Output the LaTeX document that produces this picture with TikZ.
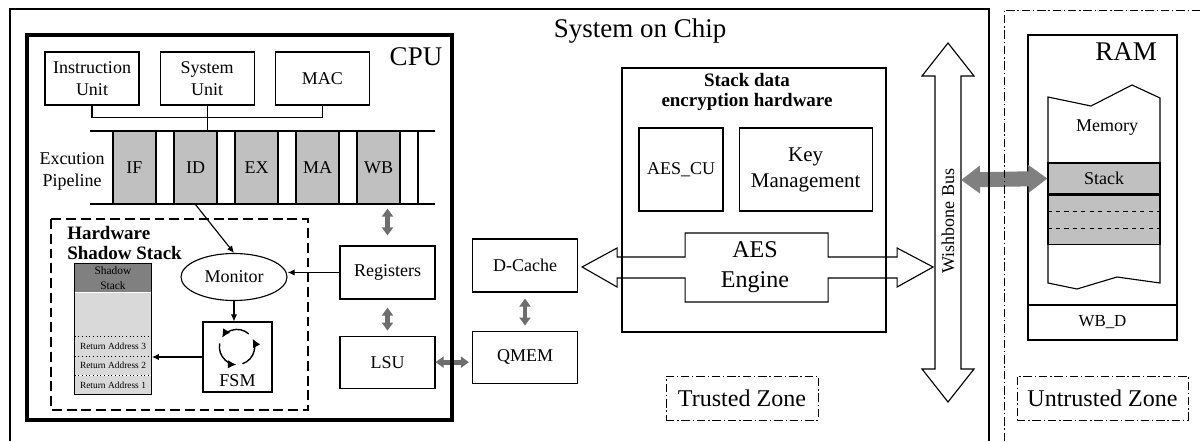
\documentclass[tikz,border=0pt]{standalone}
\usepackage{fontspec}
\setmainfont{Liberation Serif}
\usepackage{tikz}
\usetikzlibrary{shapes,arrows.meta,positioning,calc,fit}
\usepackage{xcolor}

\definecolor{stagegray}{HTML}{C0C0C0}
\definecolor{headgray}{HTML}{808080}
\definecolor{slotgray}{HTML}{D9D9D9}
\definecolor{linkgray}{HTML}{6E6E6E}
\definecolor{busgray}{HTML}{808080}

\begin{document}
\begin{tikzpicture}[
    x=0.025cm, y=-0.025cm,
    block/.style={rectangle, draw, line width=0.8pt, align=center, inner sep=1pt, font=\fontsize{12.8}{15.6}\selectfont},
    stage/.style={block, fill=stagegray, minimum width=1.075cm, minimum height=1.825cm},
    slot/.style={fill=slotgray, minimum width=1.9cm, inner sep=0pt, font=\fontsize{6.7}{8}\selectfont},
    zone/.style={rectangle, draw, line width=0.6pt, dash pattern=on 6pt off 2pt on 1pt off 2pt, minimum height=1.1cm, font=\fontsize{17.1}{20}\selectfont},
    title/.style={font=\fontsize{19.2}{22}\selectfont},
    heading/.style={font=\bfseries\fontsize{13.5}{14.2}\selectfont},
    arrow/.style={-{Latex[length=5pt,width=4.5pt]}, line width=0.8pt},
    link/.style={{Triangle[length=5.7pt,width=7.8pt]}-{Triangle[length=5.7pt,width=7.8pt]}, line width=3.5pt, linkgray},
    buslink/.style={{Triangle[length=13.5pt,width=19pt]}-{Triangle[length=13.5pt,width=19pt]}, line width=10.7pt, busgray},
    node distance=0pt
]
    \useasboundingbox (0,0) rectangle (1201,441);

    \node[title] (soc) at (640,31) {System on Chip};

    % CPU units
    \node[block, minimum width=2.35cm, minimum height=1.325cm] (iunit) at (92,78.5) {Instruction\\Unit};
    \node[block, minimum width=2.35cm, minimum height=1.325cm, right=0.5cm of iunit] (sunit) {System\\Unit};
    \node[block, minimum width=2.35cm, minimum height=1.325cm, right=0.5cm of sunit] (mac) {MAC};
    \node[title] (cpu) at (416,57) {CPU};

    % Pipeline stages
    \coordinate (pipetop) at (90,131);
    \draw[line width=0.8pt] (90,131) -- (435,131) (90,204) -- (435,204);
    \foreach \s [count=\i] in {IF,ID,EX,MA,WB}
        \node[stage] (\s) at (73.5+61*\i,167.5) {\s};
    \draw[line width=0.8pt] (418,131) -- (418,204);
    \node[block, draw=none] (pipelabel) at (72,171) {Excution\\Pipeline};

    \draw[line width=0.8pt] (iunit.south) -- ++(0,12) -| (mac.south);
    \draw[line width=0.8pt] (sunit.south) -- (sunit.south |- pipetop);

    % Hardware shadow stack
    \draw[line width=0.9pt, dash pattern=on 7pt off 3.5pt] (51,219) rectangle (308,410);
    \node[heading, align=left, anchor=west, inner sep=0pt] (hsslabel) at (67,243) {Hardware\\Shadow Stack};

    \node[slot, fill=headgray, minimum height=0.7cm, align=center, font=\fontsize{8.1}{10.7}\selectfont] (sshead) at (113,278) {Shadow\\Stack};
    \node[slot, minimum height=1.1cm, below=of sshead] (ssfree) {};
    \node[slot, minimum height=0.4675cm, below=of ssfree] (ra3) {Return Address 3};
    \node[slot, minimum height=0.4675cm, below=of ra3] (ra2) {Return Address 2};
    \node[slot, minimum height=0.4675cm, below=of ra2] (ra1) {Return Address 1};
    \node[draw, line width=0.8pt, inner sep=0pt, fit=(sshead)(ra1)] (shadow) {};
    \foreach \r in {ra3,ra2,ra1}
        \draw[dotted, line width=0.6pt] (\r.north west) -- (\r.north east);

    \node[ellipse, draw, line width=0.8pt, minimum width=2.65cm, minimum height=1.175cm, font=\fontsize{12.8}{15}\selectfont] (monitor) at (234,277) {Monitor};
    \node[block, minimum width=1.725cm, minimum height=1.75cm,
        label={[inner sep=4pt, anchor=south, font=\fontsize{12.8}{15}\selectfont]south:FSM}] (fsm) at (237.5,357) {};
    \foreach \a in {48,168,288}
        \draw[line width=1pt, -{Latex[length=6pt,width=6pt]}] ($(fsm.center)+(-0.5,-10)$) ++(\a:0.44cm)
            arc[start angle=\a, end angle=\a+100, radius=0.44cm];

    % Registers and load/store
    \node[block, minimum width=2.375cm, minimum height=1.325cm] (reg) at (387.5,272.5) {Registers};
    \node[block, minimum width=2.375cm, minimum height=1.3cm, below=0.9cm of reg] (lsu) {LSU};

    \draw[arrow] (ID.south) -- (monitor.north);
    \draw[arrow] (reg.west) -- (reg.west -| monitor.east);
    \draw[arrow] (monitor.south) -- (monitor.south |- fsm.north);
    \draw[arrow] (fsm.west) -- (fsm.west -| shadow.east);

    % Cache and memory
    \node[block, minimum width=2.625cm, minimum height=1.325cm] (dcache) at (525,265.5) {D-Cache};
    \node[block, minimum width=2.625cm, minimum height=1.3cm, below=0.95cm of dcache] (qmem) {QMEM};

    \draw[link, shorten <=0.1cm, shorten >=0.25cm] (reg.north |- WB.south) -- (reg.north);
    \draw[link, shorten <=0.2cm, shorten >=0.125cm] (reg.south) -- (lsu.north);
    \draw[link, shorten >=0.075cm] (lsu.east) -- (lsu.east -| qmem.west);
    \draw[link, shorten <=0.15cm, shorten >=0.125cm] (dcache.south) -- (qmem.north);

    % Stack data encryption hardware
    \node[draw, line width=0.8pt, minimum width=6.6cm, minimum height=6.6cm] (sdeh) at (754,200) {};
    \node[heading, align=center] (sdehlabel) at (747,92) {Stack data\\encryption hardware};
    \node[block, minimum width=2.1cm, minimum height=2.075cm] (aescu) at (681,169.5) {AES\_CU};
    \node[block, minimum width=3.325cm, minimum height=2.075cm, font=\fontsize{14.9}{18.5}\selectfont, right=0.375cm of aescu] (keymgmt) {Key\\Management};

    \node[align=center, font=\fontsize{17.1}{21.3}\selectfont] (engine) at (755,267) {AES\\Engine};
    \draw[line width=0.8pt] ($(dcache.east)+(4,1.5)$) -- ++(35,-19) -- ++(0,9) -- ++(68,0) -- ++(0,-24)
        -- ++(143,0) -- ++(0,24) -- ++(69,0) -- ++(0,-9) -- ++(36,19) -- ++(-36,20) -- ++(0,-9)
        -- ++(-69,0) -- ++(0,24) -- ++(-143,0) -- ++(0,-24) -- ++(-68,0) -- ++(0,9) -- cycle;

    % Wishbone bus
    \node[rotate=90, font=\fontsize{12.8}{15}\selectfont] (bus) at (948,221) {Wishbone Bus};
    \draw[line width=0.8pt] (948,43) -- ++(26,33) -- ++(-13,0) -- ++(0,293) -- ++(13,0) -- ++(-26,33)
        -- ++(-26,-33) -- ++(13,0) -- ++(0,-293) -- ++(-13,0) -- cycle;
    \coordinate (busport) at (961,180);

    % RAM
    \node[draw, line width=0.8pt, minimum width=3.725cm, minimum height=7.625cm] (ram) at (1102.5,187.5) {};
    \node[title] (ramlabel) at (1126,52) {RAM};
    \node[block, minimum width=3.725cm, minimum height=0.875cm, anchor=south, font=\fontsize{12}{14}\selectfont] (wbd) at (ram.south) {WB\_D};
    \draw[line width=0.8pt] (1048,97) -- (1091,106) -- (1132,85) -- (1160,98) -- (1160,283)
        -- (1117,277) -- (1077,289) -- (1048,283) -- cycle;
    \node[font=\fontsize{12.8}{15}\selectfont] (memory) at (1107,128) {Memory};
    \node[block, fill=stagegray, minimum width=2.8cm, minimum height=0.775cm] (stk) at (1104,178.5) {Stack};
    \node[block, fill=stagegray, minimum width=2.8cm, minimum height=1.225cm, below=of stk] (frames) {};
    \foreach \f in {1/3,2/3}
        \draw[dashed, line width=0.6pt] ($(frames.north west)!\f!(frames.south west)$) -- ($(frames.north east)!\f!(frames.south east)$);

    \draw[buslink] (busport) -- (stk.west);

    % Zones
    \node[zone, minimum width=3.8cm] (trusted) at (742,398) {Trusted Zone};
    \node[zone, minimum width=4.275cm] (untrusted) at (1102.5,398) {Untrusted Zone};

    % Boundaries
    \draw[line width=2.8pt] (27,35) rectangle (452,420);
    \draw[line width=0.8pt] (10,441) -- (10,9) -- (989,9) -- (989,441);
    \draw[line width=0.6pt, dash pattern=on 6pt off 2pt on 1pt off 2pt] (1004,441) -- (1004,10) -- (1201,10);
\end{tikzpicture}
\end{document}
